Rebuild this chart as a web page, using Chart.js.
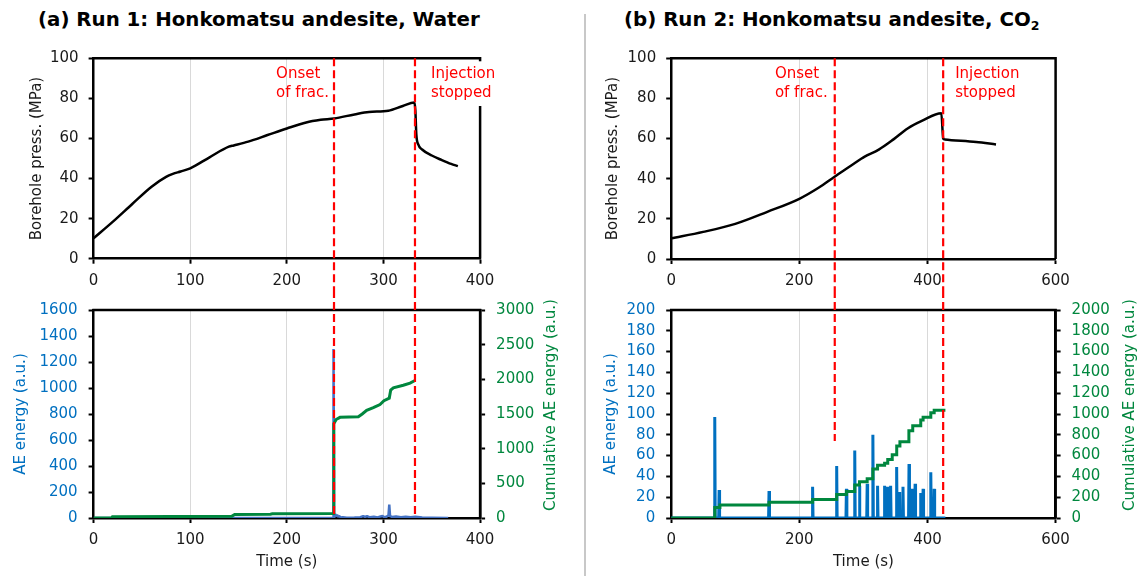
<!DOCTYPE html>
<html>
<head>
<meta charset="utf-8">
<script src="https://cdn.jsdelivr.net/npm/chart.js@4.4.1/dist/chart.umd.min.js"></script>
<style>
  body { margin: 0; background: #fff; width: 1145px; height: 576px; position: relative; overflow: hidden; font-family: "DejaVu Sans", sans-serif; }
  canvas { position: absolute; }
  .title { position: absolute; top: 10px; font-weight: bold; font-size: 19.8px; line-height: 20px; white-space: nowrap; color: #000; }
  .title sub { font-size: 12.5px; vertical-align: -4px; line-height: 0; }
  #sep { position: absolute; left: 584px; top: 14px; width: 1.5px; height: 562px; background: #c8c8c8; }
</style>
</head>
<body>
<div class="title" style="left:38px">(a) Run 1: Honkomatsu andesite, Water</div>
<div class="title" style="left:624px">(b) Run 2: Honkomatsu andesite, CO<sub>2</sub></div>
<div id="sep"></div>
<canvas id="pressA" width="580" height="290" style="left:0;top:0"></canvas>
<canvas id="aeA" width="580" height="286" style="left:0;top:290px"></canvas>
<canvas id="pressB" width="555" height="290" style="left:590px;top:0"></canvas>
<canvas id="aeB" width="555" height="286" style="left:590px;top:290px"></canvas>
<script>
// ---- tick labels ----
const pressTicks = [0, 20, 40, 60, 80, 100];
const run1TimeTicks = [0, 100, 200, 300, 400];
const run1AeTicks = [0, 200, 400, 600, 800, 1000, 1200, 1400, 1600];
const run1CumTicks = [0, 500, 1000, 1500, 2000, 2500, 3000];
const run2TimeTicks = [0, 200, 400, 600];
const run2AeTicks = [0, 20, 40, 60, 80, 100, 120, 140, 160, 180, 200];
const run2CumTicks = [0, 200, 400, 600, 800, 1000, 1200, 1400, 1600, 1800, 2000];

// ---- events (s) ----
const eventLabels = [['Onset', 'of frac.'], ['Injection', 'stopped']];
const run1Events = [248.8, 332.6];
const run2Events = [255.3, 424.5];
// where the dashed lines stop in the AE plots (AE energy axis)
const run1EventEnds = [0, 0];
const run2EventEnds = [74, 0];

// ---- Run 1: water ----
const run1Time = [0, 20, 40, 60, 75, 82, 90, 100, 120, 140, 145, 160, 180, 200, 220, 235, 249, 270, 285, 305, 320, 332, 333, 334, 336, 340, 350, 360, 370, 377];
const run1Press = [10.2, 18.5, 27.3, 35.9, 40.8, 42.3, 43.5, 45.1, 50.6, 55.9, 56.5, 58.4, 61.7, 65.0, 68.0, 69.3, 70.0, 72.0, 73.2, 73.8, 76.2, 77.9, 74, 62, 57, 54.5, 51.5, 49.3, 47.3, 46.2];

const run1AeTime = [0, 247.8, 248.3, 248.9, 250, 251, 252, 253, 254, 256, 258, 262, 270, 276, 279, 281, 283, 286, 290, 294, 297, 299, 301, 303, 305.2, 306, 306.8, 309, 313, 318, 323, 328, 333, 340, 350, 367];
const run1AeEnergy = [0, 0, 1300, 0, 30, 12, 25, 8, 15, 4, 6, 2, 3, 6, 15, 8, 14, 5, 10, 4, 12, 16, 6, 10, 20, 104, 15, 8, 12, 5, 10, 6, 10, 3, 2, 0];

const run1CumTime = [0, 18.5, 19.5, 143, 146, 183, 185, 248, 248.6, 251, 255, 274, 278, 282.6, 289.5, 296.4, 300.5, 306, 307.5, 310.2, 320.5, 327.5, 332.6];
const run1CumEnergy = [0, 0, 18, 24, 51, 53, 60, 65, 1359, 1420, 1452, 1461, 1500, 1553, 1591, 1637, 1692, 1729, 1845, 1877, 1914, 1946, 1983];

// ---- Run 2: CO2 ----
const run2Time = [0, 50, 100, 150, 200, 230, 255, 285, 302, 324, 347, 369, 392, 421.7, 424.5, 426.8, 476, 507];
const run2Press = [10.3, 13.5, 17.5, 23.5, 30.0, 35.5, 41.0, 47.5, 51.0, 54.5, 59.6, 65.0, 68.9, 72.6, 60.1, 59.6, 58.3, 57.1];

const run2SpikeTime = [68, 74.8, 152.7, 220.7, 258.3, 273.5, 286.5, 293.9, 305.9, 314.8, 322.1, 333.1, 337.8, 342.5, 351.9, 356.6, 361.8, 371.2, 376.5, 380.7, 389.5, 393.2, 405.2, 410.5];
const run2SpikeEnergy = [97, 27, 26, 30, 50, 28, 65, 31, 33, 80, 31, 31, 30, 31, 49, 25, 30, 52, 28, 33, 24, 28, 44, 28];
const run2AeEnd = 428;

const run2CumTime = [0, 68, 76, 152.7, 220.7, 258.3, 273.5, 286.5, 293.9, 305.9, 314.8, 322.1, 333.1, 338, 345, 352, 357, 371, 377, 389.5, 393.2, 405.2, 410.5, 428];
const run2CumEnergy = [0, 100, 126, 151, 178, 225, 255, 317, 348, 378, 471, 508, 526, 563, 609, 692, 732, 840, 886, 942, 969, 1012, 1037, 1037];

// ---- styling ----
const FONT = 'DejaVu Sans';
const BLUE_TXT = '#0070C0';
const GREEN = '#00873E';
const RED = '#ff0000';
Chart.defaults.font.family = FONT;
Chart.defaults.font.size = 15;

const pts = (xs, ys) => xs.map((x, i) => ({x: x, y: ys[i]}));

function tickOpts(ticks, color, padding) {
  return {
    stepSize: ticks[1] - ticks[0],
    autoSkip: false,
    format: {useGrouping: false},
    color: color,
    padding: padding,
    font: {size: 15},
  };
}

function axisFromTicks(ticks, extra) {
  return Object.assign({
    type: 'linear',
    min: ticks[0],
    max: ticks[ticks.length - 1],
    ticks: tickOpts(ticks, '#1a1a1a', 10),
    grid: {drawOnChartArea: false, tickLength: 5, tickWidth: 2, tickColor: '#000'},
    border: {color: '#000', width: 2.5},
  }, extra);
}

function timeAxis(ticks, height, withTitle) {
  return axisFromTicks(ticks, {
    ticks: tickOpts(ticks, '#1a1a1a', 8),
    grid: {drawOnChartArea: true, color: '#d9d9d9', lineWidth: 1, tickLength: 5, tickWidth: 2, tickColor: '#000'},
    title: {display: withTitle, text: 'Time (s)', color: '#1a1a1a', font: {size: 15}, padding: {top: 0, bottom: 5}},
    afterFit: s => { s.height = height; },
  });
}

function overlay(o) {
  return {
    id: 'overlay',
    afterDraw(chart) {
      const {ctx, chartArea: a, scales} = chart;
      ctx.save();
      // top and right frame
      ctx.strokeStyle = '#000';
      ctx.lineWidth = 2.5;
      ctx.beginPath();
      ctx.moveTo(a.left - 1.25, a.top);
      ctx.lineTo(a.right, a.top);
      ctx.lineTo(a.right, a.bottom);
      ctx.stroke();

      // dashed event lines
      ctx.strokeStyle = RED;
      ctx.lineWidth = 2.2;
      ctx.setLineDash([8, 4]);
      o.events.forEach((t, i) => {
        const x = scales.x.getPixelForValue(t);
        const y0 = o.top ? a.top : 0;
        const y1 = o.top ? chart.height : scales.y.getPixelForValue(o.ends[i]);
        ctx.beginPath();
        ctx.moveTo(x, y0);
        ctx.lineTo(x, y1);
        ctx.stroke();
      });
      ctx.setLineDash([]);

      if (o.top) {
        ctx.font = '15px "' + FONT + '"';
        ctx.textBaseline = 'middle';
        ctx.textAlign = 'left';
        const rows = [74, 93];
        const w = lines => Math.max(...lines.map(s => ctx.measureText(s).width));
        const xa = scales.x.getPixelForValue(o.events[0]) - o.gapL - w(eventLabels[0]);
        const xb = scales.x.getPixelForValue(o.events[1]) + o.gapR;
        ctx.fillStyle = '#fff';
        ctx.fillRect(xb - 3, a.top + 3, w(eventLabels[1]) + 6, rows[1] + 13 - a.top - 3);
        ctx.fillStyle = RED;
        eventLabels[0].forEach((s, i) => ctx.fillText(s, xa, rows[i]));
        eventLabels[1].forEach((s, i) => ctx.fillText(s, xb, rows[i]));
      }

      if (o.rightTitle) {
        ctx.translate(o.rightTitle.x, o.rightTitle.y);
        ctx.rotate(-Math.PI / 2);
        ctx.font = '15px "' + FONT + '"';
        ctx.fillStyle = GREEN;
        ctx.textAlign = 'center';
        ctx.textBaseline = 'middle';
        ctx.fillText('Cumulative AE energy (a.u.)', 0, 0);
      }
      ctx.restore();
    }
  };
}

function pressureChart(id, time, press, timeTicks, geo, events, gaps) {
  new Chart(document.getElementById(id), {
    type: 'line',
    data: {
      datasets: [{
        data: pts(time, press),
        borderColor: '#000',
        borderWidth: 2.5,
        pointRadius: 0,
        cubicInterpolationMode: 'monotone',
      }]
    },
    options: {
      responsive: false,
      animation: false,
      devicePixelRatio: 1,
      layout: {padding: {top: geo.top, right: geo.right, left: 0, bottom: 0}},
      plugins: {legend: {display: false}, tooltip: {enabled: false}},
      scales: {
        x: timeAxis(timeTicks, geo.xh, false),
        y: axisFromTicks(pressTicks, {
          title: {display: true, text: 'Borehole press. (MPa)', color: '#1a1a1a', font: {size: 15}, padding: {top: geo.titlePad, bottom: 0}},
          afterFit: s => { s.width = geo.left; },
        }),
      }
    },
    plugins: [overlay({top: true, events: events, gapL: gaps[0], gapR: gaps[1]})]
  });
}

function aeChart(id, aePoints, aeColor, cumPoints, stepped, aeTicks, cumTicks, timeTicks, geo, events, ends) {
  new Chart(document.getElementById(id), {
    type: 'line',
    data: {
      datasets: [{
        data: cumPoints,
        yAxisID: 'y2',
        borderColor: GREEN,
        borderWidth: 3,
        pointRadius: 0,
        stepped: stepped,
        order: 0,
      }, {
        data: aePoints,
        yAxisID: 'y',
        borderColor: aeColor,
        borderWidth: geo.aeWidth,
        pointRadius: 0,
        borderJoinStyle: 'bevel',
        order: 1,
      }]
    },
    options: {
      responsive: false,
      animation: false,
      devicePixelRatio: 1,
      layout: {padding: {top: geo.top, right: 0, left: 0, bottom: 0}},
      plugins: {legend: {display: false}, tooltip: {enabled: false}},
      scales: {
        x: timeAxis(timeTicks, geo.xh, true),
        y: axisFromTicks(aeTicks, {
          position: 'left',
          ticks: tickOpts(aeTicks, BLUE_TXT, 11),
          title: {display: true, text: 'AE energy (a.u.)', color: BLUE_TXT, font: {size: 15}, padding: {top: geo.titlePad, bottom: 0}},
          afterFit: s => { s.width = geo.left; },
        }),
        y2: axisFromTicks(cumTicks, {
          position: 'right',
          ticks: tickOpts(cumTicks, GREEN, 11),
          afterFit: s => { s.width = geo.right; },
        }),
      }
    },
    plugins: [overlay({top: false, events: events, ends: ends, rightTitle: geo.rightTitle})]
  });
}

// Run 2 AE energy: each recorded burst drawn as a narrow spike
const run2AePoints = [{x: 0, y: 0}];
run2SpikeTime.forEach((t, i) => {
  run2AePoints.push({x: t - 0.7, y: 0}, {x: t, y: run2SpikeEnergy[i]}, {x: t + 0.7, y: 0});
});
run2AePoints.push({x: run2AeEnd, y: 0});

pressureChart('pressA', run1Time, run1Press, run1TimeTicks,
  {top: 58.3, right: 99.9, left: 93.6, xh: 31.3, titlePad: 28}, run1Events, [5, 16]);
pressureChart('pressB', run2Time, run2Press, run2TimeTicks,
  {top: 58.3, right: 89.4, left: 81.2, xh: 31, titlePad: 14}, run2Events, [7, 12]);

aeChart('aeA', pts(run1AeTime, run1AeEnergy), '#4472C4', pts(run1CumTime, run1CumEnergy), false,
  run1AeTicks, run1CumTicks, run1TimeTicks,
  {top: 11.7, left: 93.6, right: 99.9, xh: 58, titlePad: 12, aeWidth: 2.5, rightTitle: {x: 551, y: 115}},
  run1Events, run1EventEnds);
aeChart('aeB', run2AePoints, '#0070C0', pts(run2CumTime, run2CumEnergy), 'before',
  run2AeTicks, run2CumTicks, run2TimeTicks,
  {top: 11.7, left: 81.2, right: 89.4, xh: 58, titlePad: 12, aeWidth: 3, rightTitle: {x: 540.4, y: 115}},
  run2Events, run2EventEnds);
</script>
</body>
</html>
